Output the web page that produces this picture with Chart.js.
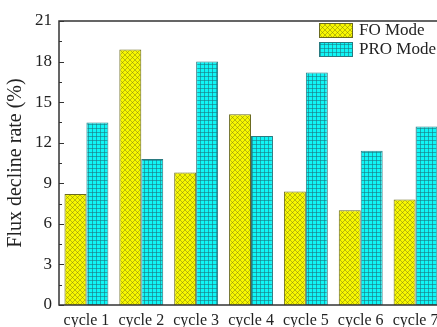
<!DOCTYPE html>
<html>
<head>
<meta charset="utf-8">
<script src="https://cdn.jsdelivr.net/npm/chart.js@4.4.1/dist/chart.umd.min.js"></script>
<style>
  html, body { margin: 0; padding: 0; background: #fff; overflow: hidden; }
  #wrap { width: 437px; height: 327px; overflow: hidden; position: relative; }
  #chart { display: block; }
</style>
</head>
<body>
<div id="wrap"><canvas id="chart" width="446" height="327"></canvas></div>
<script>
// data
const cycles = ['cycle 1', 'cycle 2', 'cycle 3', 'cycle 4', 'cycle 5', 'cycle 6', 'cycle 7'];
const foMode = [8.2, 18.9, 9.8, 14.1, 8.4, 7.0, 7.8];
const proMode = [13.5, 10.8, 18.0, 12.5, 17.2, 11.4, 13.2];
const yTicks = [0, 3, 6, 9, 12, 15, 18, 21];
const seriesNames = ['FO Mode', 'PRO Mode'];

const SERIF = '"Liberation Serif", "DejaVu Serif", serif';

// hatch fills like the origin plot
function crossHatch() {
  const c = document.createElement('canvas');
  c.width = 5; c.height = 5;
  const g = c.getContext('2d');
  g.fillStyle = '#f8f800';
  g.fillRect(0, 0, 5, 5);
  g.strokeStyle = 'rgba(120,120,20,0.6)';
  g.lineWidth = 0.8;
  g.beginPath();
  g.moveTo(-1, -1); g.lineTo(6, 6);
  g.moveTo(-1, 6); g.lineTo(6, -1);
  g.stroke();
  return g.createPattern(c, 'repeat');
}

function gridHatch() {
  const c = document.createElement('canvas');
  c.width = 4; c.height = 4;
  const g = c.getContext('2d');
  g.fillStyle = '#10f6f6';
  g.fillRect(0, 0, 4, 4);
  g.fillStyle = 'rgba(30,120,130,0.6)';
  g.fillRect(0, 0, 4, 1);
  g.fillRect(0, 0, 1, 4);
  return g.createPattern(c, 'repeat');
}

const foFill = crossHatch();
const proFill = gridHatch();

// frame, inward ticks and the legend box
const decor = {
  id: 'decor',
  afterDraw(chart) {
    const ctx = chart.ctx;
    const a = chart.chartArea;
    const y = chart.scales.y;
    ctx.save();
    ctx.strokeStyle = '#333';
    ctx.lineWidth = 1.5;
    ctx.strokeRect(a.left, a.top, a.right - a.left, a.bottom - a.top);

    ctx.lineWidth = 1.2;
    ctx.beginPath();
    for (let v = 0; v <= 21; v += 1.5) {
      const py = Math.round(y.getPixelForValue(v)) + 0.5;
      const len = (v % 3 === 0) ? 5 : 3;
      ctx.moveTo(a.left, py); ctx.lineTo(a.left + len, py);
      ctx.moveTo(a.right, py); ctx.lineTo(a.right - len, py);
    }
    ctx.stroke();

    // legend
    const fills = [foFill, proFill];
    const borders = ['#6b6b20', '#2a7a80'];
    const boxTop = [23, 42];
    ctx.font = '17px ' + SERIF;
    ctx.textBaseline = 'middle';
    for (let i = 0; i < 2; i++) {
      ctx.fillStyle = fills[i];
      ctx.fillRect(319, boxTop[i], 34, 15);
      ctx.strokeStyle = borders[i];
      ctx.lineWidth = 1;
      ctx.strokeRect(319.5, boxTop[i] + 0.5, 33, 14);
      ctx.fillStyle = '#222';
      ctx.fillText(seriesNames[i], 359, boxTop[i] + 8);
    }
    ctx.restore();
  }
};

new Chart(document.getElementById('chart'), {
  type: 'bar',
  data: {
    labels: cycles,
    datasets: [
      {
        label: seriesNames[0],
        data: foMode,
        backgroundColor: foFill,
        borderColor: '#6b6b20',
        borderWidth: 1,
        borderSkipped: 'bottom'
      },
      {
        label: seriesNames[1],
        data: proMode,
        backgroundColor: proFill,
        borderColor: '#2a7a80',
        borderWidth: 1,
        borderSkipped: 'bottom'
      }
    ]
  },
  options: {
    responsive: false,
    animation: false,
    layout: { padding: { top: 21, right: 3, left: 0, bottom: 0 } },
    datasets: { bar: { categoryPercentage: 0.8, barPercentage: 1.0 } },
    plugins: { legend: { display: false }, tooltip: { enabled: false } },
    scales: {
      x: {
        grid: { display: false, drawTicks: false },
        border: { display: false },
        ticks: { color: '#222', font: { family: SERIF, size: 16 }, padding: 6, maxRotation: 0, autoSkip: false },
        afterFit(s) { s.height = 22; }
      },
      y: {
        min: 0,
        max: 21,
        afterBuildTicks(s) { s.ticks = yTicks.map(v => ({ value: v })); },
        grid: { display: false, drawTicks: false },
        border: { display: false },
        ticks: { color: '#222', font: { family: SERIF, size: 17 }, padding: 7 },
        title: { display: true, text: 'Flux decline rate (%)', color: '#222', font: { family: SERIF, size: 20 }, padding: { top: 4, bottom: 4 } },
        afterFit(s) { s.width = 59; }
      }
    }
  },
  plugins: [decor]
});
</script>
</body>
</html>
